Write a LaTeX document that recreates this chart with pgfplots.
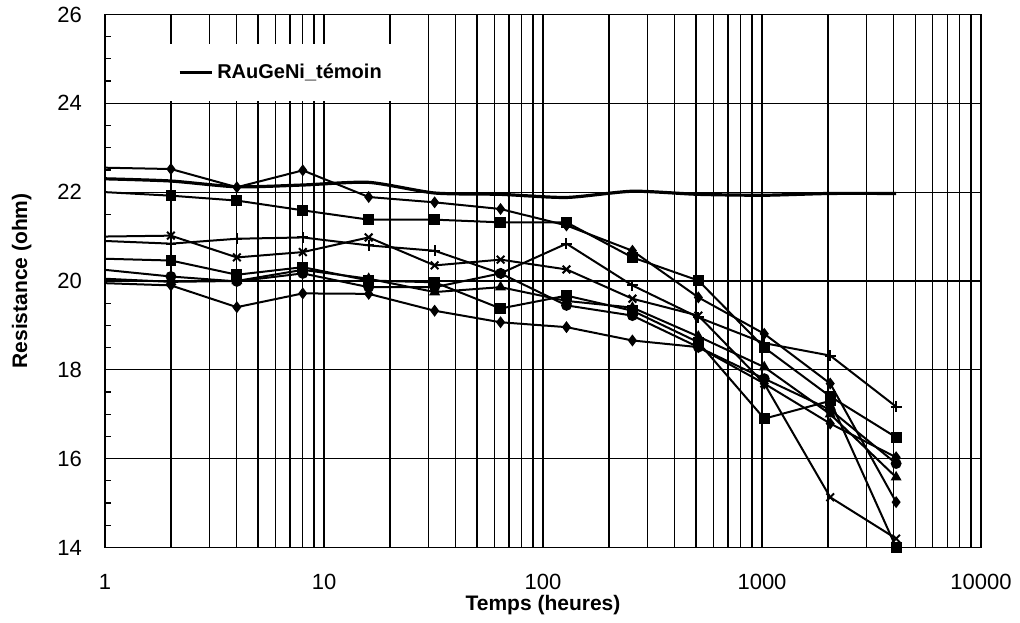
\documentclass[border=0pt]{standalone}
\usepackage{fontspec}
\setmainfont{Liberation Sans}
\usepackage{pgfplots}
\pgfplotsset{compat=1.18}

\begin{document}
\begin{tikzpicture}
\begin{axis}[
    scale only axis,
    width=438pt, height=266.5pt,
    xmode=log, xmin=1, xmax=10000,
    ymin=14, ymax=26,
    xtick={1,10,100,1000,10000},
    xticklabels={1,10,100,1000,10000},
    ytick={14,16,...,26},
    minor y tick num=3,
    tick pos=left,
    tick align=inside,
    major tick length=4pt, minor tick length=3pt,
    grid=both,
    major grid style={black, line width=0.6pt},
    minor grid style={black, line width=0.6pt},
    minor y grid style={draw=none},
    axis line style={black, line width=0.8pt},
    tick style={black, line width=0.6pt},
    ticklabel style={font=\fontsize{11}{13}\selectfont},
    /pgf/number format/assume math mode=true,
    xticklabel style={yshift=-10pt},
    yticklabel style={xshift=-8pt},
    xlabel={\textbf{Temps (heures)}},
    ylabel={\textbf{Resistance (ohm)}},
    label style={font=\fontsize{10.5}{12}\selectfont},
    xlabel style={at={(axis description cs:0.5,-0.109)}, anchor=center},
    ylabel style={at={(axis description cs:-0.095,0.5)}, anchor=center},
    legend style={at={(0.051,0.946)}, anchor=north west, draw=none, fill=white,
        inner xsep=14pt, inner ysep=8pt, font=\bfseries\fontsize{10}{12}\selectfont},
    legend cell align=left,
    legend image code/.code={\draw[#1, mark=none] (0pt,0pt) -- (16pt,0pt);},
    every axis plot/.append style={black, line width=1pt, mark indices={2,3,...,13}},
    mark size=2.2pt,
]
% témoin
\addplot[line width=1.6pt, smooth, tension=0.4] coordinates {
    (1,22.30) (2,22.25) (4,22.12) (8,22.16) (16,22.22) (32,21.98) (64,21.95)
    (128,21.88) (256,22.02) (512,21.95) (1024,21.93) (2048,21.97) (4096,21.97)
};
\addlegendentry{RAuGeNi\_témoin}

% A
\addplot[mark=diamond*, forget plot] coordinates {
    (1,22.55) (2,22.52) (4,22.11) (8,22.49) (16,21.89) (32,21.77) (64,21.62)
    (128,21.25) (256,20.68) (512,19.63) (1024,18.81) (2048,17.69) (4096,15.02)
};
% B
\addplot[mark=square*, forget plot] coordinates {
    (1,22.00) (2,21.92) (4,21.81) (8,21.59) (16,21.38) (32,21.38) (64,21.32)
    (128,21.32) (256,20.53) (512,20.01) (1024,18.50) (2048,17.40) (4096,16.48)
};
% C
\addplot[mark=x, mark size=2.7pt, forget plot] coordinates {
    (1,21.00) (2,21.02) (4,20.53) (8,20.65) (16,20.98) (32,20.35) (64,20.48)
    (128,20.26) (256,19.60) (512,19.22) (1024,17.69) (2048,15.13) (4096,14.20)
};
% D
\addplot[mark=+, mark size=2.7pt, forget plot] coordinates {
    (1,20.90) (2,20.84) (4,20.95) (8,20.98) (16,20.80) (32,20.68) (64,20.17)
    (128,20.84) (256,19.90) (512,19.18) (1024,18.60) (2048,18.32) (4096,17.17)
};
% E
\addplot[mark=square*, forget plot] coordinates {
    (1,20.50) (2,20.46) (4,20.14) (8,20.31) (16,20.01) (32,19.97) (64,19.38)
    (128,19.67) (256,19.33) (512,18.62) (1024,16.90) (2048,17.30) (4096,14.00)
};
% F
\addplot[mark=*, forget plot] coordinates {
    (1,20.25) (2,20.10) (4,19.99) (8,20.17) (16,19.86) (32,19.86) (64,20.17)
    (128,19.45) (256,19.22) (512,18.51) (1024,17.80) (2048,17.10) (4096,15.89)
};
% G
\addplot[mark=triangle*, forget plot] coordinates {
    (1,20.05) (2,19.98) (4,20.00) (8,20.25) (16,20.05) (32,19.75) (64,19.86)
    (128,19.55) (256,19.40) (512,18.75) (1024,18.06) (2048,17.00) (4096,15.58)
};
% H
\addplot[mark=diamond*, forget plot] coordinates {
    (1,19.95) (2,19.90) (4,19.41) (8,19.72) (16,19.71) (32,19.33) (64,19.07)
    (128,18.96) (256,18.66) (512,18.51) (1024,17.69) (2048,16.79) (4096,16.03)
};
\end{axis}
\path (current axis.south west) ++(-52.5pt,-37pt) rectangle ++(510pt,310.5pt);
\end{tikzpicture}
\end{document}
